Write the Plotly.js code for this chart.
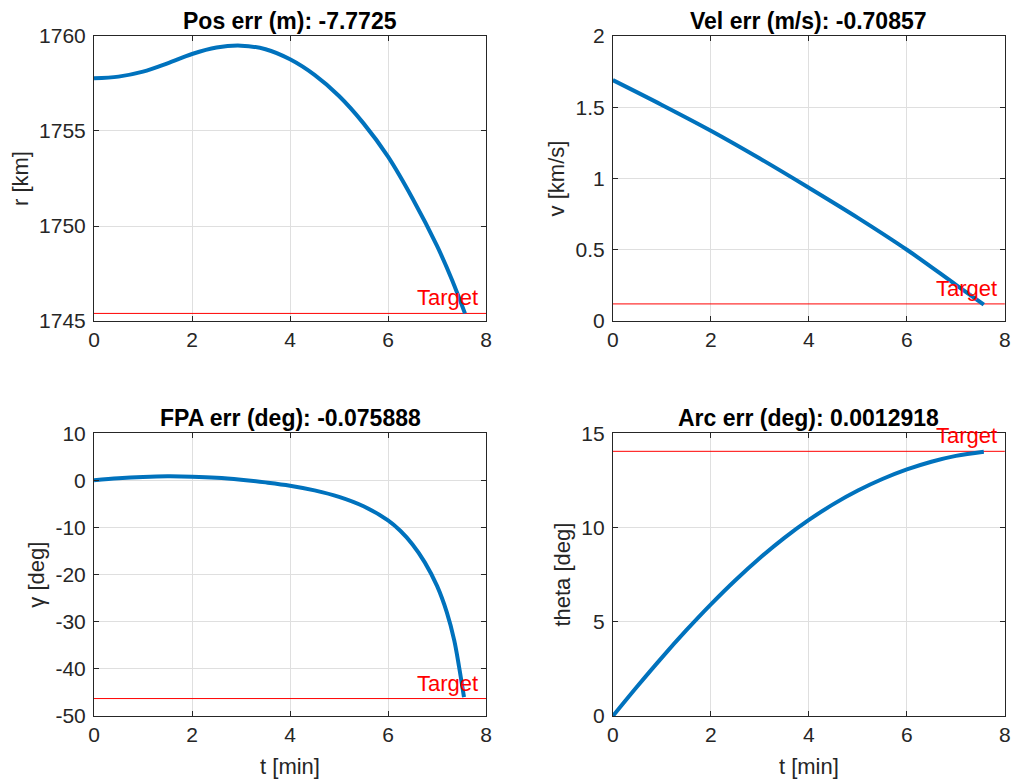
<!DOCTYPE html>
<html>
<head>
<meta charset="utf-8">
<script src="https://cdn.plot.ly/plotly-3.0.1.min.js"></script>
<style>html,body{margin:0;padding:0;background:#fff;}#chart{width:1013px;height:782px;}</style>
</head>
<body>
<div id="chart"></div>
<script>
// time samples [min]
var tPos = [0, 0.5, 1, 1.5, 2, 2.5, 3, 3.5, 4, 4.5, 5, 5.5, 6, 6.5, 7, 7.3, 7.57];
var rKm  = [1757.77, 1757.86, 1758.12, 1758.56, 1759.05, 1759.39, 1759.49, 1759.30, 1758.77, 1757.95, 1756.84, 1755.40, 1753.65, 1751.45, 1748.95, 1747.2, 1745.4];
var tVel = [0, 1, 2, 3, 4, 5, 6, 7, 7.57];
var vKms = [1.69, 1.516, 1.335, 1.14, 0.935, 0.724, 0.50, 0.254, 0.115];
var tFpa = [0, 0.5, 1, 1.5, 2, 2.5, 3, 3.5, 4, 4.5, 5, 5.5, 6, 6.25, 6.5, 6.75, 7, 7.2, 7.35, 7.45, 7.55];
var gDeg = [0, 0.43, 0.71, 0.85, 0.78, 0.57, 0.14, -0.43, -1.13, -2.13, -3.5, -5.5, -8.5, -10.7, -13.6, -17.4, -22.4, -28.0, -33.9, -39.6, -46.0];
var tArc = [0, 0.5, 1, 1.5, 2, 2.5, 3, 3.5, 4, 4.5, 5, 5.5, 6, 6.5, 7, 7.57];
var thDeg = [0, 1.58, 3.10, 4.55, 5.92, 7.20, 8.38, 9.45, 10.40, 11.24, 11.96, 12.57, 13.08, 13.49, 13.80, 14.02];
// targets
var targets = [1745.4, 0.12, -46.3, 14.04];
var tLine = [0, 8];
var titles = ['Pos err (m): -7.7725', 'Vel err (m/s): -0.70857', 'FPA err (deg): -0.075888', 'Arc err (deg): 0.0012918'];
var yLabels = ['r [km]', 'v [km/s]', '\u03b3 [deg]', 'theta [deg]'];
var xLabel = 't [min]';
var yRanges = [[1745, 1760], [0, 2], [-50, 10], [0, 15]];
var yTicks = [[1745, 1750, 1755, 1760], [0, 0.5, 1, 1.5, 2], [-50, -40, -30, -20, -10, 0, 10], [0, 5, 10, 15]];
var xTicks = [0, 2, 4, 6, 8];

var blue = '#0072BD', red = '#FF0000', ink = '#262626';
var series = [[tPos, rKm], [tVel, vKms], [tFpa, gDeg], [tArc, thDeg]];
var data = [];
for (var i = 0; i < 4; i++) {
  var xa = i === 0 ? 'x' : 'x' + (i + 1), ya = i === 0 ? 'y' : 'y' + (i + 1);
  data.push({x: tLine, y: [targets[i], targets[i]], xaxis: xa, yaxis: ya, mode: 'lines',
    line: {color: red, width: 1}, hoverinfo: 'skip'});
  data.push({x: series[i][0], y: series[i][1], xaxis: xa, yaxis: ya, mode: 'lines',
    line: {color: blue, width: 4, shape: 'spline', smoothing: 1}});
}

var fontFam = 'Liberation Sans, Arial, Helvetica, sans-serif';
var xDom = [[0.0928, 0.4798], [0.605, 0.992]];
var yDom = [[0.5895, 0.954], [0.0844, 0.446]];
var layout = {
  width: 1013, height: 782, showlegend: false,
  margin: {l: 0, r: 0, t: 0, b: 0},
  paper_bgcolor: '#fff', plot_bgcolor: '#fff',
  font: {family: fontFam, size: 20, color: ink},
  annotations: []
};
for (var i = 0; i < 4; i++) {
  var sx = i === 0 ? '' : String(i + 1);
  var col = i % 2, row = Math.floor(i / 2);
  layout['xaxis' + sx] = {
    domain: xDom[col], anchor: 'y' + sx, range: [0, 8], tickvals: xTicks, ticktext: xTicks.map(String),
    showgrid: true, gridcolor: '#dfdfdf', gridwidth: 1, zeroline: false,
    showline: true, linecolor: ink, linewidth: 1, mirror: 'ticks', ticks: 'inside', ticklen: 5, tickcolor: ink,
    tickfont: {size: 21, color: ink, family: fontFam},
    title: row === 1 ? {text: xLabel, font: {size: 22, color: ink}, standoff: 13} : {text: ''}
  };
  layout['yaxis' + sx] = {
    domain: yDom[row], anchor: 'x' + sx, range: yRanges[i], tickvals: yTicks[i], ticktext: yTicks[i].map(String),
    showgrid: true, gridcolor: '#dfdfdf', gridwidth: 1, zeroline: false,
    showline: true, linecolor: ink, linewidth: 1, mirror: 'ticks', ticks: 'inside', ticklen: 5, tickcolor: ink,
    ticklabelstandoff: 3,
    tickfont: {size: 21, color: ink, family: fontFam},
    title: {text: yLabels[i], font: {size: 22, color: ink}, standoff: 4}
  };
  layout.annotations.push({
    text: '<b>' + titles[i] + '</b>', xref: 'paper', yref: 'paper',
    x: (xDom[col][0] + xDom[col][1]) / 2, y: yDom[row][1], xanchor: 'center', yanchor: 'bottom',
    yshift: 0, showarrow: false, font: {size: 23, color: '#000', family: fontFam}
  });
  layout.annotations.push({
    text: 'Target', xref: 'x' + sx, yref: 'y' + sx, x: 8, y: targets[i], xanchor: 'right', yanchor: 'bottom',
    xshift: -6, yshift: 1, showarrow: false, font: {size: 22, color: red, family: fontFam}
  });
}
Plotly.newPlot('chart', data, layout, {displayModeBar: false, staticPlot: true});
</script>
</body>
</html>
